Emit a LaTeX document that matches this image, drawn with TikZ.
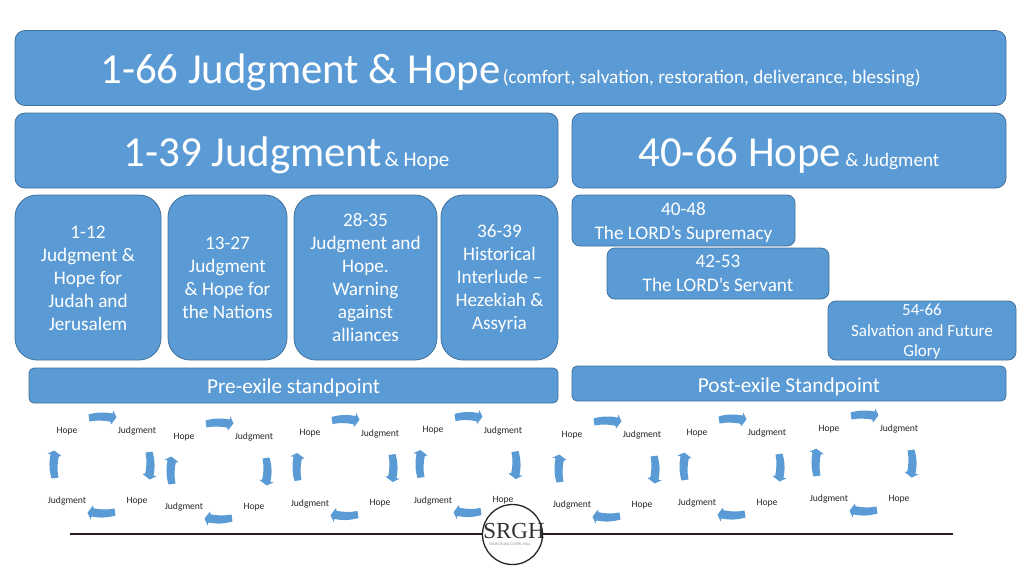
\documentclass[tikz,border=0pt]{standalone}
\usepackage{fontspec}
\setmainfont{Carlito}
\newfontfamily\logofont{Liberation Serif}
\definecolor{boxblue}{HTML}{5B9BD5}
\definecolor{boxline}{HTML}{41719C}
\definecolor{rulecol}{HTML}{2E1A1E}
\newcommand{\fsize}[1]{\fontsize{#1}{#1}\selectfont}
\newcommand{\drop}[1]{\rule{0pt}{#1}}
\tikzset{
  blockbox/.style={fill=boxblue, draw=boxline, thick, text=white, align=center, inner sep=0pt, rounded corners=#1},
  blockbox/.default=10pt,
  cyclelabel/.style={font=\fsize{9.6}, text=black!85, inner sep=0pt},
  cyclearrow/.style={fill=boxblue, draw=none},
}
\newcommand{\turnarrow}{(-13.5,-50.5) .. controls (-5,-53) and (3,-53) .. (10.7,-51.5) -- (11.3,-54.5) -- (14.5,-47.7) -- (9,-40.5) -- (8.5,-43.2) .. controls (3,-44.5) and (-5,-45) .. (-12.5,-43.5) -- cycle}
\begin{document}
\begin{tikzpicture}[x=1pt, y=-1pt]
  \useasboundingbox (0,0) rectangle (1024,576);
  % top rows
  \node (all) [blockbox, text height=31pt, text depth=0pt, minimum width=991pt, minimum height=75pt] at (510.5,68) {{\fsize{42.8}1-66 Judgment \& Hope} {\fsize{19.2}(comfort, salvation, restoration, deliverance, blessing)}};
  \node (first) [blockbox, text height=31pt, text depth=0pt, minimum width=543pt, minimum height=75pt] at (286.5,150.5) {{\fsize{42.8}1-39 Judgment} {\fsize{21}\& Hope}};
  \node (second) [blockbox, text height=31pt, text depth=0pt, minimum width=434pt, minimum height=75pt] at (789,150.5) {{\fsize{42.8}40-66 Hope} \hspace{2pt}{\fsize{19.2}\& Judgment}};
  % sections of 1-39
  \node (sec1) [blockbox=22pt, font=\fsize{19.2}, minimum width=146pt, minimum height=165pt] at (88,277.5) {\drop{15pt}1-12\\[3.8pt]Judgment \&\\[3.8pt]Hope for\\[3.8pt]Judah and\\[3.8pt]Jerusalem};
  \node (sec2) [blockbox=22pt, font=\fsize{19.2}, minimum width=119pt, minimum height=165pt] at (227.5,277.5) {\drop{14pt}13-27\\[3.8pt]Judgment\\[3.8pt]\& Hope for\\[3.8pt]the Nations};
  \node (sec3) [blockbox=22pt, font=\fsize{19.2}, minimum width=143pt, minimum height=165pt] at (365.5,277.5) {28-35\\[3.8pt]Judgment and\\[3.8pt]Hope.\\[3.8pt]Warning\\[3.8pt]against\\[3.8pt]alliances};
  \node (sec4) [blockbox=22pt, font=\fsize{19.2}, minimum width=117pt, minimum height=165pt] at (499.5,277.5) {\drop{16pt}36-39\\[3.8pt]Historical\\[3.8pt]Interlude --\\[3.8pt]Hezekiah \&\\[3.8pt]Assyria};
  % sections of 40-66
  \node (sec5) [blockbox=8pt, font=\fsize{19.2}, minimum width=223pt, minimum height=51pt] at (683.5,220.5) {\drop{17pt}40-48\\[4.5pt]The LORD’s Supremacy};
  \node (sec6) [blockbox=8pt, font=\fsize{19.2}, minimum width=222pt, minimum height=51pt] at (718,273.5) {42-53\\[4.5pt]The LORD’s Servant};
  \node (sec7) [blockbox=8pt, font=\fsize{17}, minimum width=188pt, minimum height=59pt] at (922,330.5) {\drop{14pt}54-66\\[3.5pt]Salvation and Future\\[3.5pt]Glory};
  % standpoints
  \node (pre) [blockbox=5pt, text height=15pt, text depth=0pt, font=\fsize{21.3}, minimum width=529pt, minimum height=35pt] at (293.5,385.5) {Pre-exile standpoint};
  \node (post) [blockbox=5pt, text height=18pt, text depth=0pt, font=\fsize{21.3}, minimum width=434pt, minimum height=35pt] at (789,383.5) {Post-exile Standpoint};
  % cycles
  \foreach \n/\cx/\cy in {1/102/465, 2/219/471, 3/345/467.5, 4/468/464.5, 5/607/469, 6/732/467, 7/864/463} {
    \node (hopeA\n) [cyclelabel] at (\cx-35,\cy-34) {Hope};
    \node (judgeA\n) [cyclelabel] at (\cx+35,\cy-34) {Judgment};
    \node (judgeB\n) [cyclelabel] at (\cx-35,\cy+36) {Judgment};
    \node (hopeB\n) [cyclelabel] at (\cx+35,\cy+36) {Hope};
    \foreach \a in {0,-90,-180,-270} {
      \fill [cyclearrow, shift={(\cx,\cy)}, rotate=\a] \turnarrow;
    }
  }
  % baseline and logo
  \coordinate (ruleL) at (70,534);
  \coordinate (ruleR) at (953,534);
  \draw [rulecol, line width=2.5pt] (ruleL) -- (ruleR);
  \node (logo) [circle, fill=white, draw=black!85, line width=1.3pt, minimum size=60pt, inner sep=0pt] at (512.5,534.5) {};
  \node (logoname) [inner sep=0pt, text=black!80, font=\logofont\fsize{23}] at (514,531) {SRGH};
  \node (logosub) [inner sep=0pt, text=black!45, font=\fsize{3.8}] at (510,544.5) {STAIRS ROAD GOSPEL HALL};
\end{tikzpicture}
\end{document}
